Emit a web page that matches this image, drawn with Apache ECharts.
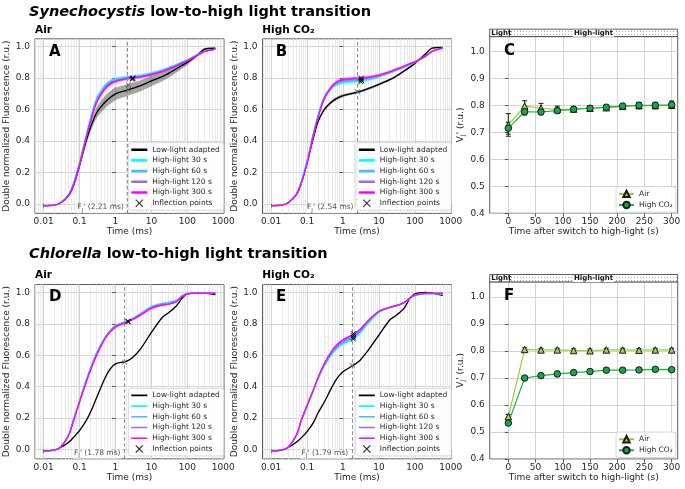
<!DOCTYPE html>
<html><head><meta charset="utf-8">
<script src="https://cdn.jsdelivr.net/npm/echarts@6/dist/echarts.min.js"></script>
<style>html,body{margin:0;padding:0;background:#fff}#c{width:685px;height:489px}</style>
</head><body><div id="c"></div>
<script>
// ---------- DATA ----------
const T = [0.01,0.02,0.03,0.05,0.07,0.1,0.15,0.2,0.3,0.5,0.7,1,2,3,5,10,20,30,50,70,100,200,300,600];

// Panel A: Synechocystis, Air
const A_LL  = [-0.01,-0.007,0.008,0.055,0.125,0.245,0.395,0.485,0.58,0.645,0.675,0.70,0.722,0.735,0.752,0.782,0.81,0.83,0.86,0.88,0.90,0.95,0.985,0.99];
const A_30  = [-0.01,-0.007,0.009,0.062,0.14,0.265,0.43,0.54,0.67,0.75,0.78,0.795,0.805,0.81,0.816,0.83,0.85,0.865,0.885,0.90,0.915,0.95,0.97,0.985];
const A_60  = [-0.01,-0.007,0.009,0.06,0.137,0.26,0.425,0.535,0.665,0.745,0.775,0.79,0.802,0.806,0.812,0.828,0.848,0.862,0.882,0.898,0.913,0.95,0.97,0.985];
const A_120 = [-0.01,-0.007,0.008,0.058,0.133,0.255,0.415,0.525,0.655,0.737,0.767,0.784,0.798,0.803,0.809,0.825,0.845,0.86,0.88,0.896,0.912,0.948,0.97,0.985];
const A_300 = [-0.01,-0.007,0.008,0.057,0.13,0.25,0.41,0.52,0.645,0.73,0.762,0.78,0.797,0.802,0.808,0.823,0.843,0.858,0.878,0.895,0.91,0.948,0.97,0.985];
const sdA_LL = [0,0.002,0.004,0.01,0.015,0.02,0.025,0.03,0.035,0.04,0.04,0.04,0.038,0.036,0.035,0.033,0.03,0.028,0.024,0.02,0.016,0.01,0.006,0.004];
const sdA_HL = [0,0.001,0.002,0.005,0.007,0.009,0.011,0.012,0.013,0.013,0.012,0.012,0.011,0.011,0.01,0.01,0.009,0.009,0.008,0.008,0.007,0.006,0.005,0.004];
const inflA_HL = [[3.1,0.80],[3.0,0.797],[2.9,0.793]];
const inflA_LL = [[2.3,0.757],[2.3,0.728]];
const fjA = 2.21;

// Panel B: Synechocystis, High CO2
const B_LL  = [-0.01,-0.007,0.008,0.057,0.135,0.26,0.42,0.52,0.60,0.652,0.673,0.688,0.705,0.715,0.733,0.76,0.79,0.812,0.845,0.868,0.893,0.955,0.99,0.995];
const B_30  = [-0.01,-0.007,0.009,0.063,0.145,0.275,0.45,0.56,0.68,0.745,0.763,0.772,0.778,0.782,0.79,0.81,0.835,0.85,0.87,0.885,0.90,0.94,0.97,0.99];
const B_60  = [-0.01,-0.007,0.009,0.062,0.143,0.27,0.445,0.555,0.676,0.746,0.767,0.778,0.785,0.789,0.796,0.813,0.837,0.852,0.872,0.887,0.902,0.94,0.97,0.99];
const B_120 = [-0.01,-0.007,0.008,0.06,0.14,0.265,0.44,0.55,0.672,0.748,0.772,0.785,0.793,0.796,0.802,0.816,0.838,0.853,0.873,0.888,0.902,0.94,0.97,0.99];
const B_300 = [-0.01,-0.007,0.008,0.058,0.137,0.26,0.435,0.545,0.668,0.75,0.777,0.79,0.798,0.80,0.805,0.818,0.84,0.855,0.875,0.89,0.903,0.94,0.97,0.99];
const sdB_LL = [0,0.001,0.002,0.004,0.006,0.008,0.01,0.01,0.01,0.01,0.01,0.009,0.008,0.008,0.008,0.008,0.008,0.008,0.007,0.006,0.006,0.005,0.004,0.003];
const sdB_HL = [0,0.001,0.002,0.005,0.007,0.009,0.011,0.012,0.013,0.013,0.013,0.013,0.012,0.012,0.011,0.01,0.009,0.009,0.008,0.008,0.007,0.006,0.005,0.004];
const inflB_HL = [[3.2,0.80],[3.2,0.79],[3.3,0.784],[3.1,0.777]];
const inflB_LL = [[2.54,0.714]];
const fjB = 2.54;

// Panel D: Chlorella, Air
const D_LL  = [-0.01,-0.005,0.012,0.045,0.08,0.12,0.18,0.235,0.33,0.45,0.51,0.545,0.56,0.585,0.64,0.745,0.84,0.87,0.915,0.96,0.99,0.995,0.995,0.985];
const D_30  = [-0.01,-0.005,0.017,0.095,0.2,0.31,0.435,0.515,0.615,0.71,0.755,0.788,0.815,0.832,0.862,0.905,0.925,0.93,0.945,0.975,0.992,0.995,0.995,0.995];
const D_60  = [-0.01,-0.005,0.017,0.095,0.2,0.31,0.435,0.515,0.615,0.71,0.755,0.788,0.816,0.834,0.865,0.91,0.93,0.935,0.95,0.978,0.993,0.995,0.995,0.995];
const D_120 = [-0.01,-0.005,0.016,0.092,0.195,0.305,0.428,0.508,0.608,0.705,0.75,0.783,0.811,0.829,0.858,0.902,0.922,0.927,0.942,0.972,0.99,0.995,0.995,0.995];
const D_300 = [-0.01,-0.005,0.015,0.09,0.19,0.30,0.42,0.50,0.60,0.70,0.745,0.778,0.808,0.826,0.855,0.898,0.918,0.924,0.94,0.97,0.99,0.995,0.995,0.995];
const sdD_LL = [0,0.001,0.002,0.003,0.003,0.004,0.004,0.004,0.004,0.004,0.004,0.004,0.004,0.004,0.004,0.004,0.004,0.004,0.003,0.003,0.003,0.002,0.002,0.002];
const sdD_HL = [0,0.001,0.002,0.003,0.004,0.005,0.005,0.005,0.005,0.005,0.005,0.005,0.004,0.004,0.004,0.004,0.004,0.004,0.003,0.003,0.003,0.002,0.002,0.002];
const inflD_HL = [[2.2,0.815],[2.3,0.812]];
const inflD_LL = [[1.78,0.555]];
const fjD = 1.78;

// Panel E: Chlorella, High CO2
const E_LL  = [-0.01,-0.005,0.012,0.045,0.075,0.113,0.17,0.23,0.30,0.40,0.455,0.495,0.537,0.568,0.63,0.728,0.824,0.853,0.898,0.955,0.99,1.0,0.995,0.98];
const E_30  = [-0.01,-0.005,0.014,0.086,0.183,0.273,0.372,0.447,0.53,0.608,0.645,0.672,0.703,0.742,0.803,0.872,0.903,0.913,0.933,0.958,0.978,0.99,0.99,0.99];
const E_60  = [-0.01,-0.005,0.014,0.087,0.185,0.275,0.375,0.45,0.535,0.615,0.652,0.68,0.713,0.75,0.81,0.876,0.904,0.914,0.934,0.959,0.981,0.992,0.992,0.992];
const E_120 = [-0.01,-0.005,0.015,0.088,0.187,0.277,0.377,0.452,0.54,0.622,0.66,0.688,0.723,0.757,0.815,0.878,0.905,0.915,0.935,0.96,0.983,0.994,0.994,0.994];
const E_300 = [-0.01,-0.005,0.015,0.09,0.19,0.28,0.38,0.455,0.545,0.63,0.67,0.698,0.735,0.765,0.82,0.88,0.905,0.915,0.935,0.96,0.985,0.995,0.995,0.995];
const sdE_LL = sdD_LL;
const sdE_HL = [0,0.001,0.002,0.004,0.005,0.006,0.007,0.008,0.008,0.008,0.008,0.008,0.008,0.007,0.006,0.005,0.004,0.004,0.003,0.003,0.003,0.002,0.002,0.002];
const inflE_HL = [[1.95,0.738],[1.95,0.725],[1.95,0.712],[1.95,0.703]];
const inflE_LL = [[1.79,0.535]];
const fjE = 1.79;

// Panels C & F: VJ' vs time after switch
const vjT = [0,30,60,90,120,150,180,210,240,270,300];
const C_air      = [0.728,0.798,0.790,0.786,0.787,0.790,0.792,0.797,0.800,0.800,0.801];
const C_air_err  = [0.042,0.02,0.018,0.012,0.01,0.01,0.008,0.01,0.012,0.012,0.012];
const C_hco2     = [0.716,0.777,0.776,0.781,0.786,0.790,0.794,0.798,0.801,0.801,0.803];
const C_hco2_err = [0.022,0.012,0.01,0.01,0.008,0.008,0.008,0.01,0.01,0.01,0.014];
const F_air      = [0.557,0.806,0.804,0.804,0.802,0.801,0.804,0.804,0.803,0.804,0.804];
const F_air_err  = [0.008,0.006,0.006,0.006,0.006,0.006,0.006,0.006,0.006,0.006,0.006];
const F_hco2     = [0.533,0.700,0.709,0.715,0.720,0.724,0.729,0.729,0.730,0.732,0.731];
const F_hco2_err = [0.006,0.008,0.008,0.01,0.008,0.008,0.008,0.008,0.008,0.008,0.006];

// tick labels
const logTickLabels = ['0.01','0.1','1','10','100','1000'];
const fluoYTicks = [0,0.2,0.4,0.6,0.8,1.0];
const vjYTicks = [0.4,0.5,0.6,0.7,0.8,0.9,1.0];
const vjXTicks = [0,50,100,150,200,250,300];
const phaseNames = ['Light','High-light'];
const phaseStart = [-34.2, 2];
const phaseEnd = [2, 311.1];

// ---------- BUILD ----------
const FONT = 'DejaVu Sans';
const lg = t => Math.round(Math.log10(t)*1e9)/1e9;
const LOGMIN = -2.24, LOGMAX = 3.02;
const VJXMIN = -34.2, VJXMAX = 311.1;
const minorVals = [];
for (let d=-3; d<=2; d++) for (let k=2; k<=9; k++){ const v = Math.log10(k)+d; if (v>LOGMIN && v<LOGMAX) minorVals.push(v); }

const curveNames = ['Low-light adapted','High-light 30 s','High-light 60 s','High-light 120 s','High-light 300 s'];
const curveColors = ['#000000','#00FFFF','#4DB8FF','#9370DB','#FF00FF'];
const bandColorsLL = 'rgba(80,80,80,0.5)';
const bandColorsHL = ['rgba(0,255,255,0.35)','rgba(77,184,255,0.35)','rgba(147,112,219,0.35)','rgba(255,0,255,0.35)'];

const grid=[], xAxis=[], yAxis=[], series=[], legend=[], title=[];
const txt = {fontFamily:FONT, color:'#262626'};
function axisBase(){
  return {
    type:'value',
    axisLine:{show:false},
    axisTick:{show:true, length:3.5, inside:false, lineStyle:{color:'#333', width:0.8}},
    axisLabel:Object.assign({fontSize:9}, txt),
    splitLine:{show:true, lineStyle:{color:'#c8c8c8', width:0.8}},
    nameTextStyle:Object.assign({fontSize:9}, txt),
    nameLocation:'middle'
  };
}
// legend line icon: invisible moves fix the bounding box to 16x8
function lineIcon(th){ const a = (4 - th/2).toFixed(2), b = (4 + th/2).toFixed(2);
  return 'path://M0,0 L0.01,0 M16,8 L15.99,8 M0,' + a + ' L16,' + a + ' L16,' + b + ' L0,' + b + ' Z'; }

const logPanels = [
  {curves:[A_LL,A_30,A_60,A_120,A_300], sdLL:sdA_LL, sdHL:sdA_HL, inflHL:inflA_HL, inflLL:inflA_LL, fj:fjA, left:35, top:38.8, h:174.6, legW:2.6},
  {curves:[B_LL,B_30,B_60,B_120,B_300], sdLL:sdB_LL, sdHL:sdB_HL, inflHL:inflB_HL, inflLL:inflB_LL, fj:fjB, left:262.5, top:38.8, h:174.6, legW:2.6},
  {curves:[D_LL,D_30,D_60,D_120,D_300], sdLL:sdD_LL, sdHL:sdD_HL, inflHL:inflD_HL, inflLL:inflD_LL, fj:fjD, left:35, top:284.5, h:174.3, legW:1.6},
  {curves:[E_LL,E_30,E_60,E_120,E_300], sdLL:sdE_LL, sdHL:sdE_HL, inflHL:inflE_HL, inflLL:inflE_LL, fj:fjE, left:262.5, top:284.5, h:174.3, legW:1.6}
];

const crossPath = 'path://M1,0 L5,4 L9,0 L10,1 L6,5 L10,9 L9,10 L5,6 L1,10 L0,9 L4,5 L0,1 Z';

logPanels.forEach(p => {
  const gi = grid.length;
  grid.push({left:p.left, top:p.top, width:189, height:p.h, show:true, borderColor:'#333', borderWidth:0.8, backgroundColor:'transparent'});
  const xi = xAxis.length;
  const xb = axisBase();
  xb.gridIndex = gi; xb.min = LOGMIN; xb.max = LOGMAX;
  xb.axisTick.customValues = logTickLabels.map(s => lg(parseFloat(s)));
  xb.axisLabel.customValues = logTickLabels.map(s => lg(parseFloat(s)));
  xb.axisLabel.margin = 4;
  xb.axisLabel.formatter = v => logTickLabels.find(s => Math.abs(lg(parseFloat(s)) - v) < 1e-6) || '';
  xb.name = 'Time (ms)'; xb.nameGap = 14;
  xAxis.push(xb);
  xAxis.push({gridIndex:gi, type:'value', min:LOGMIN, max:LOGMAX, position:'top',
    axisLine:{show:false}, axisLabel:{show:false}, axisTick:{show:false, customValues:minorVals},
    splitLine:{show:true, lineStyle:{color:'#e4e4e4', width:0.8}}});
  const yi = yAxis.length;
  const yb = axisBase();
  yb.gridIndex = gi; yb.min = -0.06; yb.max = 1.05;
  yb.axisTick.customValues = fluoYTicks; yb.axisLabel.customValues = fluoYTicks;
  yb.axisLabel.formatter = v => v.toFixed(1); yb.axisLabel.margin = 5;
  yb.name = 'Double normalized Fluorescence (r.u.)'; yb.nameGap = 23.5;
  yAxis.push(yb);

  // bands
  p.curves.forEach((vals, ci) => {
    const sd = ci === 0 ? p.sdLL : p.sdHL;
    const color = ci === 0 ? bandColorsLL : bandColorsHL[ci-1];
    series.push({type:'custom', xAxisIndex:xi, yAxisIndex:yi, silent:true, z:1, data:[[0,0]], encode:{x:0,y:1},
      renderItem:function(params, api){
        const up = T.map((t,i)=>api.coord([lg(t), vals[i]+sd[i]]));
        const dn = T.map((t,i)=>api.coord([lg(t), vals[i]-sd[i]])).reverse();
        return {type:'polygon', shape:{points:up.concat(dn), smooth:0.3}, style:{fill:color}};
      }});
  });
  // lines
  p.curves.forEach((vals, ci) => {
    series.push({type:'line', name:curveNames[ci], xAxisIndex:xi, yAxisIndex:yi, z:2,
      data:T.map((t,i)=>[lg(t), vals[i]]), symbol:'none', smooth:0.3,
      lineStyle:{color:curveColors[ci], width:1.3}, itemStyle:{color:curveColors[ci]}});
  });
  // inflection points + FJ' dashed line
  series.push({type:'scatter', name:'Inflection points', xAxisIndex:xi, yAxisIndex:yi, z:5,
    symbol:crossPath, symbolSize:5.5, itemStyle:{color:'#000'},
    data:p.inflHL.map(q=>[lg(q[0]), q[1]]).concat(p.inflLL.map(q=>({value:[lg(q[0]), q[1]], itemStyle:{color:'#555'}}))),
    markLine:{silent:true, symbol:['none','none'], label:{show:false}, animation:false,
      lineStyle:{type:[3.5,2.5], color:'#8a8a8a', width:1.1}, data:[{xAxis:lg(p.fj)}]}});
  // FJ' label
  series.push({type:'scatter', xAxisIndex:xi, yAxisIndex:yi, z:6, symbolSize:0, silent:true,
    data:[[lg(p.fj), -0.028]],
    label:{show:true, position:'left', distance:3,
      formatter:'{a|F}{s|J}{a|\' (' + p.fj.toFixed(2) + ' ms)}',
      backgroundColor:'rgba(255,255,255,0.85)', padding:[0,1,0,1],
      rich:{a:{fontFamily:FONT, fontSize:7.5, color:'#262626', lineHeight:10, verticalAlign:'top'},
            s:{fontFamily:FONT, fontSize:5.5, color:'#262626', lineHeight:10, verticalAlign:'bottom', padding:[3,0,0,0]}}}});
  const ico = lineIcon(p.legW);
  legend.push({data:curveNames.map(n => ({name:n, icon:ico})).concat([{name:'Inflection points'}]), orient:'vertical',
    left:p.left+93.3, top:p.top+103.9, itemWidth:16, itemHeight:8, itemGap:2.7,
    padding:[3,4,3,3], backgroundColor:'rgba(255,255,255,0.85)', borderColor:'#d0d0d0', borderWidth:0.8, borderRadius:2.5,
    textStyle:Object.assign({fontSize:7.5}, txt), selectedMode:false, z:10});
});

// VJ' panels
const airLine = '#9ACD32', airFill = '#a9cf54', hcoLine = '#1fb14f', hcoFill = '#17a84b';
const vjPanels = [
  {air:C_air, airErr:C_air_err, hco:C_hco2, hcoErr:C_hco2_err, top:36.6, h:176.7, btop:29.2},
  {air:F_air, airErr:F_air_err, hco:F_hco2, hcoErr:F_hco2_err, top:281.9, h:177.1, btop:274.5}
];
// dot pattern
const pc = document.createElement('canvas'); pc.width = 3; pc.height = 3;
const pctx = pc.getContext('2d'); pctx.fillStyle = '#fff'; pctx.fillRect(0,0,3,3); pctx.fillStyle = '#a8a8a8'; pctx.fillRect(1,1,1,1);

function errSeries(xi, yi, vals, errs){
  return {type:'custom', xAxisIndex:xi, yAxisIndex:yi, silent:true, z:3,
    data:vjT.map((x,i)=>[x, vals[i], errs[i]]), encode:{x:0, y:1},
    renderItem:function(params, api){
      const x=api.value(0), y=api.value(1), e=api.value(2);
      const a=api.coord([x,y-e]), b=api.coord([x,y+e]); const w=2.5;
      const st={stroke:'#1a1a1a', lineWidth:1};
      return {type:'group', children:[
        {type:'line', shape:{x1:a[0],y1:a[1],x2:b[0],y2:b[1]}, style:st},
        {type:'line', shape:{x1:a[0]-w,y1:a[1],x2:a[0]+w,y2:a[1]}, style:st},
        {type:'line', shape:{x1:b[0]-w,y1:b[1],x2:b[0]+w,y2:b[1]}, style:st}]};
    }};
}

vjPanels.forEach(p => {
  const gi = grid.length;
  grid.push({left:489.7, top:p.top, width:188, height:p.h, show:true, borderColor:'#333', borderWidth:0.8, backgroundColor:'transparent'});
  const xi = xAxis.length;
  const xb = axisBase();
  xb.gridIndex = gi; xb.min = VJXMIN; xb.max = VJXMAX;
  xb.axisTick.customValues = vjXTicks; xb.axisLabel.customValues = vjXTicks; xb.axisLabel.margin = 4;
  xb.name = 'Time after switch to high-light (s)'; xb.nameGap = 14;
  xAxis.push(xb);
  const yi = yAxis.length;
  const yb = axisBase();
  yb.gridIndex = gi; yb.min = 0.4; yb.max = 1.056;
  yb.axisTick.customValues = vjYTicks; yb.axisLabel.customValues = vjYTicks;
  yb.axisLabel.formatter = v => v.toFixed(1); yb.axisLabel.margin = 5;
  yb.name = "V{s|J}' (r.u.)"; yb.nameGap = 22;
  yb.nameTextStyle.rich = {s:{fontFamily:FONT, fontSize:6.5, color:'#262626', padding:[4,0,0,0]}};
  yAxis.push(yb);
  series.push(errSeries(xi, yi, p.air, p.airErr));
  series.push(errSeries(xi, yi, p.hco, p.hcoErr));
  series.push({type:'line', name:'Air', xAxisIndex:xi, yAxisIndex:yi, z:4,
    data:vjT.map((x,i)=>[x, p.air[i]]), symbol:'triangle', symbolSize:6.5,
    lineStyle:{color:airLine, width:1.2}, itemStyle:{color:airFill, borderColor:'#1a1a1a', borderWidth:1}});
  series.push({type:'line', name:'High CO₂', xAxisIndex:xi, yAxisIndex:yi, z:4,
    data:vjT.map((x,i)=>[x, p.hco[i]]), symbol:'circle', symbolSize:6.5,
    lineStyle:{color:hcoLine, width:1.2}, itemStyle:{color:hcoFill, borderColor:'#1a1a1a', borderWidth:1}});
  legend.push({data:['Air','High CO₂'], orient:'vertical', left:616, top:p.top+150.1,
    itemWidth:15, itemHeight:8, itemGap:2.7, padding:[3,3,3,2],
    backgroundColor:'rgba(255,255,255,0.85)', borderColor:'#d0d0d0', borderWidth:0.8, borderRadius:2.5,
    textStyle:Object.assign({fontSize:7.5}, txt), selectedMode:false, z:10});
  // banner
  const bgi = grid.length;
  grid.push({left:489.7, top:p.btop, width:188, height:7.4, show:false});
  const bxi = xAxis.length;
  xAxis.push({gridIndex:bgi, type:'value', min:VJXMIN, max:VJXMAX, show:false});
  const byi = yAxis.length;
  yAxis.push({gridIndex:bgi, type:'value', min:0, max:1, show:false});
  series.push({type:'custom', xAxisIndex:bxi, yAxisIndex:byi, silent:true, z:5,
    data:phaseNames.map((n,i)=>[phaseStart[i], phaseEnd[i], i]), encode:{x:[0,1]},
    renderItem:function(params, api){
      const i = api.value(2);
      const a = api.coord([api.value(0), 1]), b = api.coord([api.value(1), 0]);
      const left = i === 0;
      return {type:'group', children:[
        {type:'rect', z2:1, shape:{x:a[0], y:a[1], width:b[0]-a[0], height:b[1]-a[1]},
          style:{fill: left ? '#fff' : {image:pc, repeat:'repeat'}, stroke:'#333', lineWidth:0.8}},
        {type:'text', z2:20, x: left ? a[0]+0.5 : (a[0]+b[0])/2, y:(a[1]+b[1])/2 + 0.3,
          style:{text:phaseNames[i], font:'bold 7px "DejaVu Sans"', fill:'#111',
            align: left ? 'left' : 'center', verticalAlign:'middle', backgroundColor: left ? 'transparent' : '#fff', padding:[0,1]}}]};
    }});
});

// titles
const ttl = (text, left, top, size, extra) => Object.assign({text, left, top, padding:0,
  textStyle:{fontFamily:FONT, fontSize:size, fontWeight:'bold', color:'#000'}}, extra||{});
const italicRich = {i:{fontFamily:FONT, fontSize:14.5, fontWeight:'bold', fontStyle:'italic', color:'#000'}};
title.push(ttl('{i|Synechocystis} low-to-high light transition', 29, 4.5, 14.5));
title[0].textStyle.rich = italicRich;
title.push(ttl('{i|Chlorella} low-to-high light transition', 29, 247, 14.5));
title[1].textStyle.rich = italicRich;
title.push(ttl('Air', 35, 24.5, 10.5));
title.push(ttl('High CO₂', 262.3, 24.5, 10.5));
title.push(ttl('Air', 35, 270, 10.5));
title.push(ttl('High CO₂', 262.3, 270, 10.5));
title.push(ttl('A', 49, 44.5, 15));
title.push(ttl('B', 275.7, 44.5, 15));
title.push(ttl('C', 504, 43.5, 15));
title.push(ttl('D', 49, 289.5, 15));
title.push(ttl('E', 276, 289.5, 15));
title.push(ttl('F', 504, 289, 15));

const chart = echarts.init(document.getElementById('c'), null, {renderer:'canvas'});
chart.setOption({animation:false, backgroundColor:'#fff', title, grid, xAxis, yAxis, series, legend, tooltip:{show:false}});
</script>
</body></html>
